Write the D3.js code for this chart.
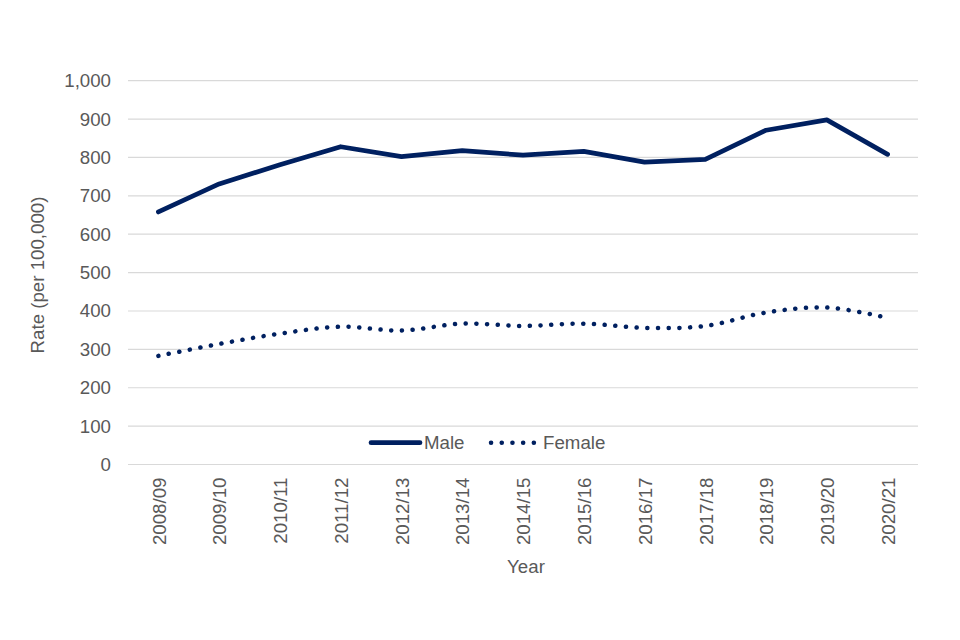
<!DOCTYPE html>
<html>
<head>
<meta charset="utf-8">
<script src="https://cdn.jsdelivr.net/npm/d3@7"></script>
<style>
  body { margin: 0; background: #fff; }
  svg text { font-family: Arial, "Liberation Sans", sans-serif; fill: #595959; }
</style>
</head>
<body>
<div class="chart"></div>
<script>
const years = ['2008/09','2009/10','2010/11','2011/12','2012/13','2013/14','2014/15',
               '2015/16','2016/17','2017/18','2018/19','2019/20','2020/21'];
const maleRates = [658, 731, 781, 828, 802, 818, 806, 816, 788, 795, 871, 898, 808];
const femaleRates = [283, 314, 341, 359, 349, 367, 361, 367, 356, 361, 396, 409, 382];
const yTicks = [0, 100, 200, 300, 400, 500, 600, 700, 800, 900, 1000];

const width = 960, height = 640;
const margin = { top: 80.7, right: 42, bottom: 175.5, left: 128 };
const navy = '#002060';
const fontSize = '18.7px';

const svg = d3.select('.chart').append('svg')
    .attr('width', width)
    .attr('height', height);

const x = d3.scalePoint()
    .domain(years)
    .range([margin.left, width - margin.right])
    .padding(0.5);

const y = d3.scaleLinear()
    .domain([0, 1000])
    .range([height - margin.bottom, margin.top]);

// gridlines
svg.append('g')
    .selectAll('line')
    .data(yTicks)
    .enter()
    .append('line')
        .attr('x1', margin.left)
        .attr('x2', width - margin.right)
        .attr('y1', d => y(d))
        .attr('y2', d => y(d))
        .attr('stroke', '#d9d9d9')
        .attr('stroke-width', 1.2);

// y axis
svg.append('g')
    .attr('transform', 'translate(' + (margin.left - 17) + ',0)')
    .call(d3.axisLeft(y).tickValues(yTicks).tickFormat(d3.format(',')).tickSize(0))
    .call(g => g.select('.domain').remove())
    .selectAll('text')
        .style('font-size', fontSize)
        .attr('x', 0);

// x axis
svg.append('g')
    .attr('transform', 'translate(0,' + (height - margin.bottom) + ')')
    .call(d3.axisBottom(x).tickSize(0))
    .call(g => g.select('.domain').remove())
    .selectAll('text')
        .style('font-size', fontSize)
        .style('text-anchor', 'end')
        .attr('transform', 'rotate(-90)')
        .attr('x', -13)
        .attr('y', 0)
        .attr('dy', '0.36em');

// axis titles
svg.append('text')
    .attr('x', (margin.left + width - margin.right) / 2 + 3)
    .attr('y', 573)
    .attr('text-anchor', 'middle')
    .style('font-size', fontSize)
    .text('Year');

svg.append('text')
    .attr('transform', 'translate(44,' + (275) + ') rotate(-90)')
    .attr('text-anchor', 'middle')
    .style('font-size', fontSize)
    .text('Rate (per 100,000)');

// lines
const maleLine = d3.line()
    .x((d, i) => x(years[i]))
    .y(d => y(d));

const femaleLine = d3.line()
    .x((d, i) => x(years[i]))
    .y(d => y(d))
    .curve(d3.curveCatmullRom.alpha(0.5));

svg.append('path')
    .datum(maleRates)
    .attr('d', maleLine)
    .attr('fill', 'none')
    .attr('stroke', navy)
    .attr('stroke-width', 4.7)
    .attr('stroke-linejoin', 'round')
    .attr('stroke-linecap', 'round');

svg.append('path')
    .datum(femaleRates)
    .attr('d', femaleLine)
    .attr('fill', 'none')
    .attr('stroke', navy)
    .attr('stroke-width', 4.5)
    .attr('stroke-dasharray', '0.1 10.6')
    .attr('stroke-linecap', 'round');

// legend
const legend = svg.append('g');
legend.append('line')
    .attr('x1', 371).attr('x2', 420)
    .attr('y1', 442.7).attr('y2', 442.7)
    .attr('stroke', navy)
    .attr('stroke-width', 4.7)
    .attr('stroke-linecap', 'round');
legend.append('text')
    .attr('x', 424).attr('y', 442.7)
    .attr('dy', '0.35em')
    .style('font-size', fontSize)
    .text('Male');
legend.append('line')
    .attr('x1', 491).attr('x2', 534)
    .attr('y1', 442.7).attr('y2', 442.7)
    .attr('stroke', navy)
    .attr('stroke-width', 4.5)
    .attr('stroke-dasharray', '0.1 10.6')
    .attr('stroke-linecap', 'round');
legend.append('text')
    .attr('x', 543).attr('y', 442.7)
    .attr('dy', '0.35em')
    .style('font-size', fontSize)
    .text('Female');
</script>
</body>
</html>
